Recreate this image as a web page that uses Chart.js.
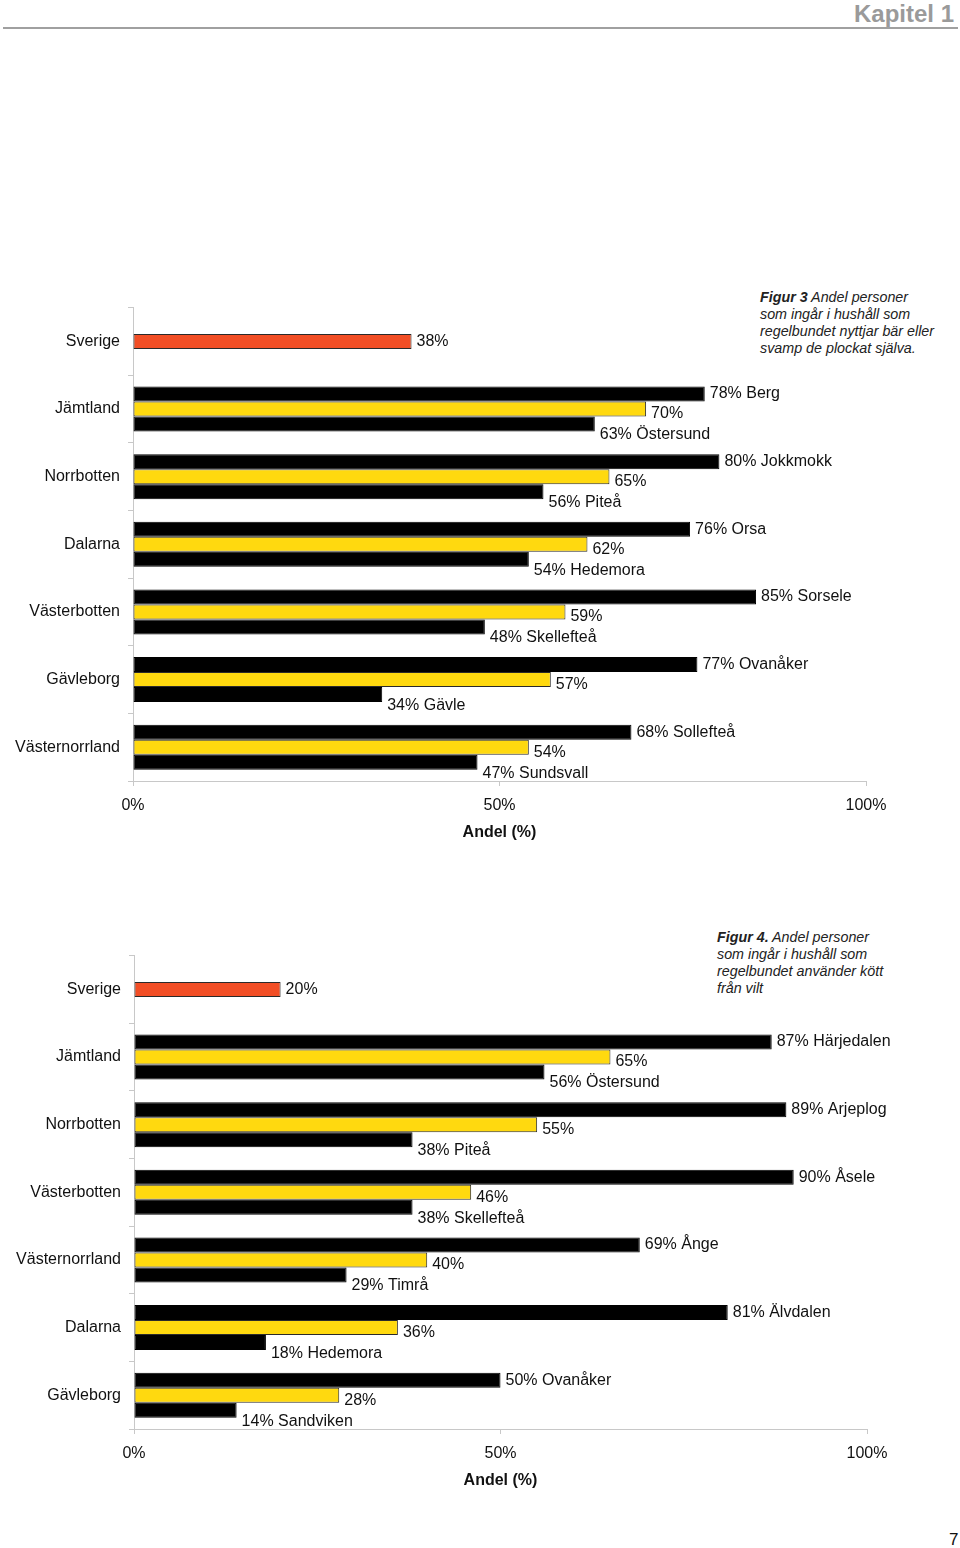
<!DOCTYPE html>
<html>
<head>
<meta charset="utf-8">
<script src="https://cdn.jsdelivr.net/npm/chart.js@4/dist/chart.umd.min.js"></script>
<style>
  body { margin: 0; background: #fff; font-family: 'Liberation Sans', Arial, sans-serif; }
  .page { position: relative; width: 960px; height: 1548px; overflow: hidden; }
  .header { position: absolute; right: 6px; top: 0px; font-size: 24px; font-weight: bold; color: #9a9a9a; line-height: 28px; }
  .rule { position: absolute; left: 3px; top: 27px; width: 955px; height: 2px; background: #a0a0a0; }
  .caption { position: absolute; font-size: 14.3px; font-style: italic; line-height: 17px; color: #222; }
  .caption b { font-weight: bold; }
  .chartbox { position: absolute; left: 0; width: 960px; height: 560px; }
  .pageno { position: absolute; left: 949px; top: 1530px; font-size: 17px; color: #111; }
</style>
</head>
<body>
<div class="page">
  <div class="header">Kapitel 1</div>
  <div class="rule"></div>

  <div class="caption" style="left:760px; top:289px;"><b>Figur 3</b> Andel personer<br>som ingår i hushåll som<br>regelbundet nyttjar bär eller<br>svamp de plockat själva.</div>
  <div class="chartbox" style="top:290px;"><canvas id="chart-berries" width="960" height="560"></canvas></div>

  <div class="caption" style="left:717px; top:929px;"><b>Figur 4.</b> Andel personer<br>som ingår i hushåll som<br>regelbundet använder kött<br>från vilt</div>
  <div class="chartbox" style="top:938px;"><canvas id="chart-game" width="960" height="560"></canvas></div>

  <div class="pageno">7</div>
</div>

<script>
'use strict';

/////////////////////
//// Data: Figur 3 ///

const counties1 = ['Sverige', 'Jämtland', 'Norrbotten', 'Dalarna', 'Västerbotten', 'Gävleborg', 'Västernorrland'];
const highest1 = [null, 78, 80, 76, 85, 77, 68];
const highestTown1 = ['', 'Berg', 'Jokkmokk', 'Orsa', 'Sorsele', 'Ovanåker', 'Sollefteå'];
const county1 = [38, 70, 65, 62, 59, 57, 54];
const lowest1 = [null, 63, 56, 54, 48, 34, 47];
const lowestTown1 = ['', 'Östersund', 'Piteå', 'Hedemora', 'Skellefteå', 'Gävle', 'Sundsvall'];

/////////////////////
//// Data: Figur 4 ///

const counties2 = ['Sverige', 'Jämtland', 'Norrbotten', 'Västerbotten', 'Västernorrland', 'Dalarna', 'Gävleborg'];
const highest2 = [null, 87, 89, 90, 69, 81, 50];
const highestTown2 = ['', 'Härjedalen', 'Arjeplog', 'Åsele', 'Ånge', 'Älvdalen', 'Ovanåker'];
const county2 = [20, 65, 55, 46, 40, 36, 28];
const lowest2 = [null, 56, 38, 38, 29, 18, 14];
const lowestTown2 = ['', 'Östersund', 'Piteå', 'Skellefteå', 'Timrå', 'Hedemora', 'Sandviken'];

const xTicks = [0, 50, 100];
const axisTitle = 'Andel (%)';

const BLACK = '#000000';
const YELLOW = '#FFD90F';
const RED = '#F24E25';
const EDGE = '#2a2a2a';
const AXIS = '#c8c8c8';

Chart.defaults.font.family = "'Liberation Sans', Arial, sans-serif";
Chart.defaults.font.size = 16;
Chart.defaults.color = '#111';

// labels next to the bar ends, a bit lower for the 2nd and 3rd bar
const barLabels = {
  id: 'barLabels',
  afterDatasetsDraw(chart) {
    const ctx = chart.ctx;
    const sets = chart.data.datasets;
    ctx.save();
    ctx.font = "16px 'Liberation Sans', Arial, sans-serif";
    ctx.fillStyle = '#111';
    ctx.textAlign = 'left';
    ctx.textBaseline = 'middle';
    sets.forEach(function (ds, i) {
      const meta = chart.getDatasetMeta(i);
      meta.data.forEach(function (bar, j) {
        const v = ds.data[j];
        if (v === null || v === undefined) return;
        // single bar (Sverige) keeps its label centred
        const alone = sets.every(function (o) { return o === ds || o.data[j] === null; });
        let txt = v + '%';
        if (ds.towns && ds.towns[j]) txt += ' ' + ds.towns[j];
        ctx.fillText(txt, bar.x + 5, bar.y + (alone ? 0 : ds.labelDrop));
      });
    });
    ctx.restore();
  }
};

const makeChart = function (id, labels, hi, hiTown, mid, lo, loTown, axisX) {
  const ctx = document.getElementById(id).getContext('2d');
  const midColors = labels.map(function (c, j) { return j === 0 ? RED : YELLOW; });
  return new Chart(ctx, {
    type: 'bar',
    data: {
      labels: labels,
      datasets: [{
        data: hi,
        towns: hiTown,
        labelDrop: 0,
        backgroundColor: BLACK,
        borderColor: BLACK,
        borderWidth: 1
      }, {
        data: mid,
        labelDrop: 5,
        backgroundColor: midColors,
        borderColor: EDGE,
        borderWidth: 1
      }, {
        data: lo,
        towns: loTown,
        labelDrop: 11,
        backgroundColor: BLACK,
        borderColor: BLACK,
        borderWidth: 1
      }]
    },
    options: {
      indexAxis: 'y',
      responsive: false,
      animation: false,
      borderSkipped: false,
      categoryPercentage: 0.665,
      barPercentage: 1.0,
      layout: { padding: { top: 17, right: 960 - axisX - 733, bottom: 0, left: 0 } },
      plugins: { legend: { display: false }, tooltip: { enabled: false } },
      scales: {
        x: {
          min: 0,
          max: 100,
          afterBuildTicks: function (s) { s.ticks = xTicks.map(function (v) { return { value: v }; }); },
          afterFit: function (s) { s.height = 69; },
          ticks: { padding: 10, color: '#111', callback: function (v) { return v + '%'; } },
          grid: { drawOnChartArea: false, drawTicks: true, tickLength: 5, color: AXIS },
          border: { display: true, color: AXIS },
          title: { display: true, text: axisTitle, font: { size: 16, weight: 'bold' }, color: '#111', padding: { top: 0, bottom: 8 } }
        },
        y: {
          afterFit: function (s) { s.width = axisX; },
          ticks: { padding: 8, color: '#111' },
          grid: { offset: true, drawOnChartArea: false, drawTicks: true, tickLength: 5, color: AXIS },
          border: { display: true, color: AXIS }
        }
      }
    },
    plugins: [barLabels]
  });
};

const chart1 = makeChart('chart-berries', counties1, highest1, highestTown1, county1, lowest1, lowestTown1, 133);
const chart2 = makeChart('chart-game', counties2, highest2, highestTown2, county2, lowest2, lowestTown2, 134);
</script>
</body>
</html>
